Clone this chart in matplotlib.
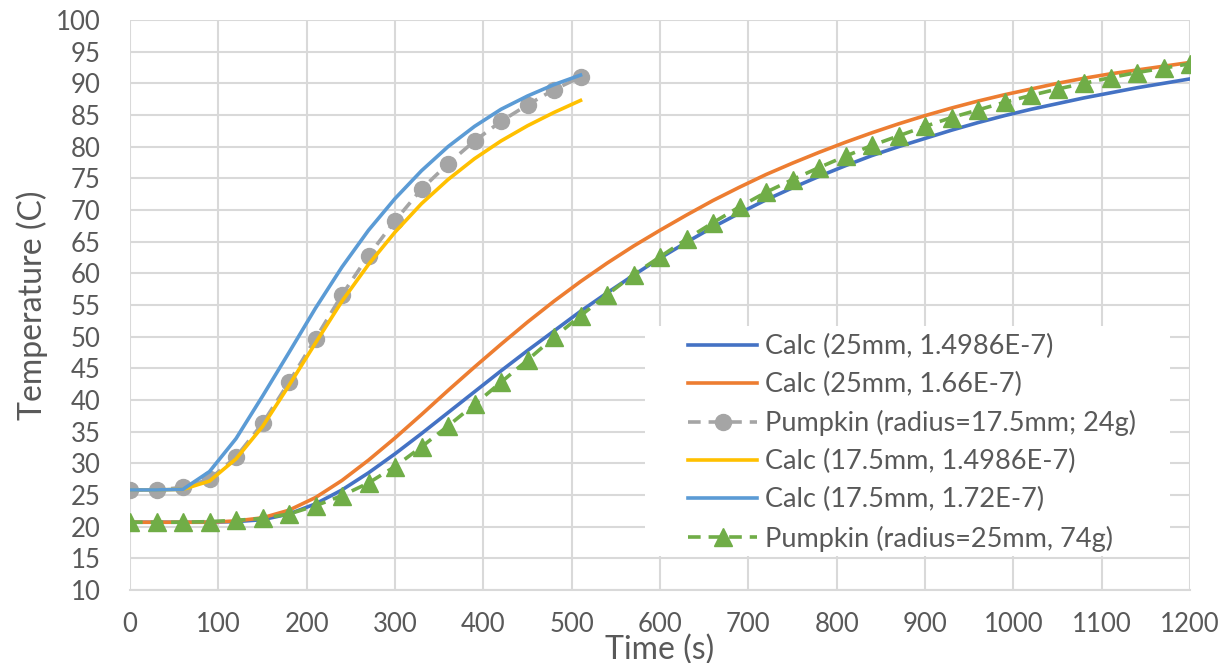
import numpy as np
import matplotlib
matplotlib.use("Agg")
import matplotlib.pyplot as plt
from matplotlib.patches import Rectangle

plt.rcParams['font.family'] = ['Lato', 'DejaVu Sans']

# time axes (s)
t_small = [0, 30, 60, 90, 120, 150, 180, 210, 240, 270, 300, 330, 360, 390, 420, 450, 480, 510]
t_large = [0, 30, 60, 90, 120, 150, 180, 210, 240, 270, 300, 330, 360, 390, 420, 450, 480, 510,
           540, 570, 600, 630, 660, 690, 720, 750, 780, 810, 840, 870, 900, 930, 960, 990, 1020,
           1050, 1080, 1110, 1140, 1170, 1200]

# Calc (25mm, 1.4986E-7)
calc25_a = [20.7, 20.7, 20.7, 20.7, 20.8, 21.1, 22.0, 23.6, 25.8, 28.5, 31.5, 34.7, 38.0, 41.3,
            44.6, 47.8, 50.9, 54.0, 56.9, 59.7, 62.4, 64.9, 67.3, 69.5, 71.6, 73.5, 75.3, 77.0,
            78.6, 80.0, 81.3, 82.6, 83.8, 84.9, 85.9, 86.8, 87.7, 88.5, 89.3, 90.0, 90.7]
# Calc (25mm, 1.66E-7)
calc25_b = [20.7, 20.7, 20.7, 20.7, 20.9, 21.4, 22.6, 24.6, 27.3, 30.5, 34.0, 37.7, 41.5, 45.2,
            48.8, 52.3, 55.6, 58.7, 61.6, 64.3, 66.8, 69.2, 71.5, 73.6, 75.6, 77.4, 79.1, 80.7,
            82.2, 83.6, 84.9, 86.1, 87.2, 88.2, 89.1, 90.0, 90.8, 91.5, 92.1, 92.7, 93.3]
# Pumpkin (radius=17.5mm; 24g)
pumpkin_175 = [25.8, 25.8, 26.2, 27.5, 31.0, 36.3, 42.8, 49.7, 56.6, 62.8, 68.3, 73.3, 77.3,
               80.9, 84.0, 86.6, 89.0, 91.0]
# Calc (17.5mm, 1.4986E-7)
calc175_a = [25.8, 25.8, 25.9, 27.2, 30.7, 35.8, 42.3, 49.0, 55.6, 61.4, 66.5, 71.0, 74.8,
             78.1, 80.9, 83.3, 85.4, 87.3]
# Calc (17.5mm, 1.72E-7)
calc175_b = [25.8, 25.8, 25.9, 28.7, 33.9, 40.6, 47.5, 54.5, 61.0, 66.8, 71.8, 76.2, 80.0,
             83.2, 85.9, 88.0, 89.8, 91.3]
# Pumpkin (radius=25mm, 74g)
pumpkin_25 = [20.7, 20.7, 20.7, 20.8, 21.0, 21.3, 22.0, 23.3, 24.9, 26.9, 29.5, 32.6, 35.9,
              39.3, 42.8, 46.3, 49.9, 53.3, 56.6, 59.8, 62.6, 65.4, 68.0, 70.5, 72.8, 74.8,
              76.7, 78.5, 80.2, 81.7, 83.2, 84.6, 85.8, 87.0, 88.1, 89.1, 90.0, 90.9, 91.7,
              92.4, 93.1]

labels = ["Calc (25mm, 1.4986E-7)", "Calc (25mm, 1.66E-7)", "Pumpkin (radius=17.5mm; 24g)",
          "Calc (17.5mm, 1.4986E-7)", "Calc (17.5mm, 1.72E-7)", "Pumpkin (radius=25mm, 74g)"]

txt = '#595959'
grid = '#d9d9d9'

W, H = 1220, 663
fig = plt.figure(figsize=(W/100, H/100), dpi=100)
ax = fig.add_axes([130/W, 1-590/H, 1060/W, 570/H])

def ax_x(px):
    return (px-130)/1060

def ax_y(py):
    return (590-py)/570

lw = 2.6
dash = (0, (3.5, 2.2))
ax.plot(t_large, calc25_a, color='#4472C4', lw=lw, label=labels[0], zorder=3)
ax.plot(t_large, calc25_b, color='#ED7D31', lw=lw, label=labels[1], zorder=3)
ax.plot(t_small, pumpkin_175, color='#A5A5A5', lw=lw, ls=dash, marker='o',
        ms=11.5, label=labels[2], zorder=3)
ax.plot(t_small, calc175_a, color='#FFC000', lw=lw, label=labels[3], zorder=3)
ax.plot(t_small, calc175_b, color='#5B9BD5', lw=lw, label=labels[4], zorder=3)
ax.plot(t_large, pumpkin_25, color='#70AD47', lw=lw, ls=dash, marker='^',
        ms=12.5, label=labels[5], zorder=4)

ax.set_xlim(0, 1200)
ax.set_ylim(10, 100)
ax.set_xticks(np.arange(0, 1201, 100))
ax.set_yticks(np.arange(10, 101, 5))
ax.grid(True, color=grid, lw=1.5, zorder=0)
ax.set_axisbelow(True)
for s in ['top', 'right', 'left']:
    ax.spines[s].set_visible(False)
ax.spines['bottom'].set_color(grid)
ax.spines['bottom'].set_linewidth(1.5)
ax.tick_params(length=0, labelsize=18.5, colors=txt)
ax.tick_params(axis='x', pad=16)
ax.tick_params(axis='y', pad=21)

ax.set_xlabel("Time (s)", fontsize=23, color=txt, va='center')
ax.set_ylabel("Temperature (C)", fontsize=23, color=txt, va='center')
ax.xaxis.set_label_coords(ax_x(660), ax_y(650))
ax.yaxis.set_label_coords(ax_x(32), 0.5)

# white legend area covering the grid
ax.add_patch(Rectangle((ax_x(645), ax_y(556)), ax_x(1170)-ax_x(645), ax_y(326)-ax_y(556),
                       transform=ax.transAxes, facecolor='white', edgecolor='none', zorder=2))

leg = ax.legend(loc='upper left', bbox_to_anchor=(ax_x(688), ax_y(334)),
                fontsize=19.5, frameon=False, handlelength=2.55, handletextpad=0.3,
                labelspacing=0.48, borderpad=0, borderaxespad=0)
for tx in leg.get_texts():
    tx.set_color(txt)

fig.savefig("out.png", dpi=100)
